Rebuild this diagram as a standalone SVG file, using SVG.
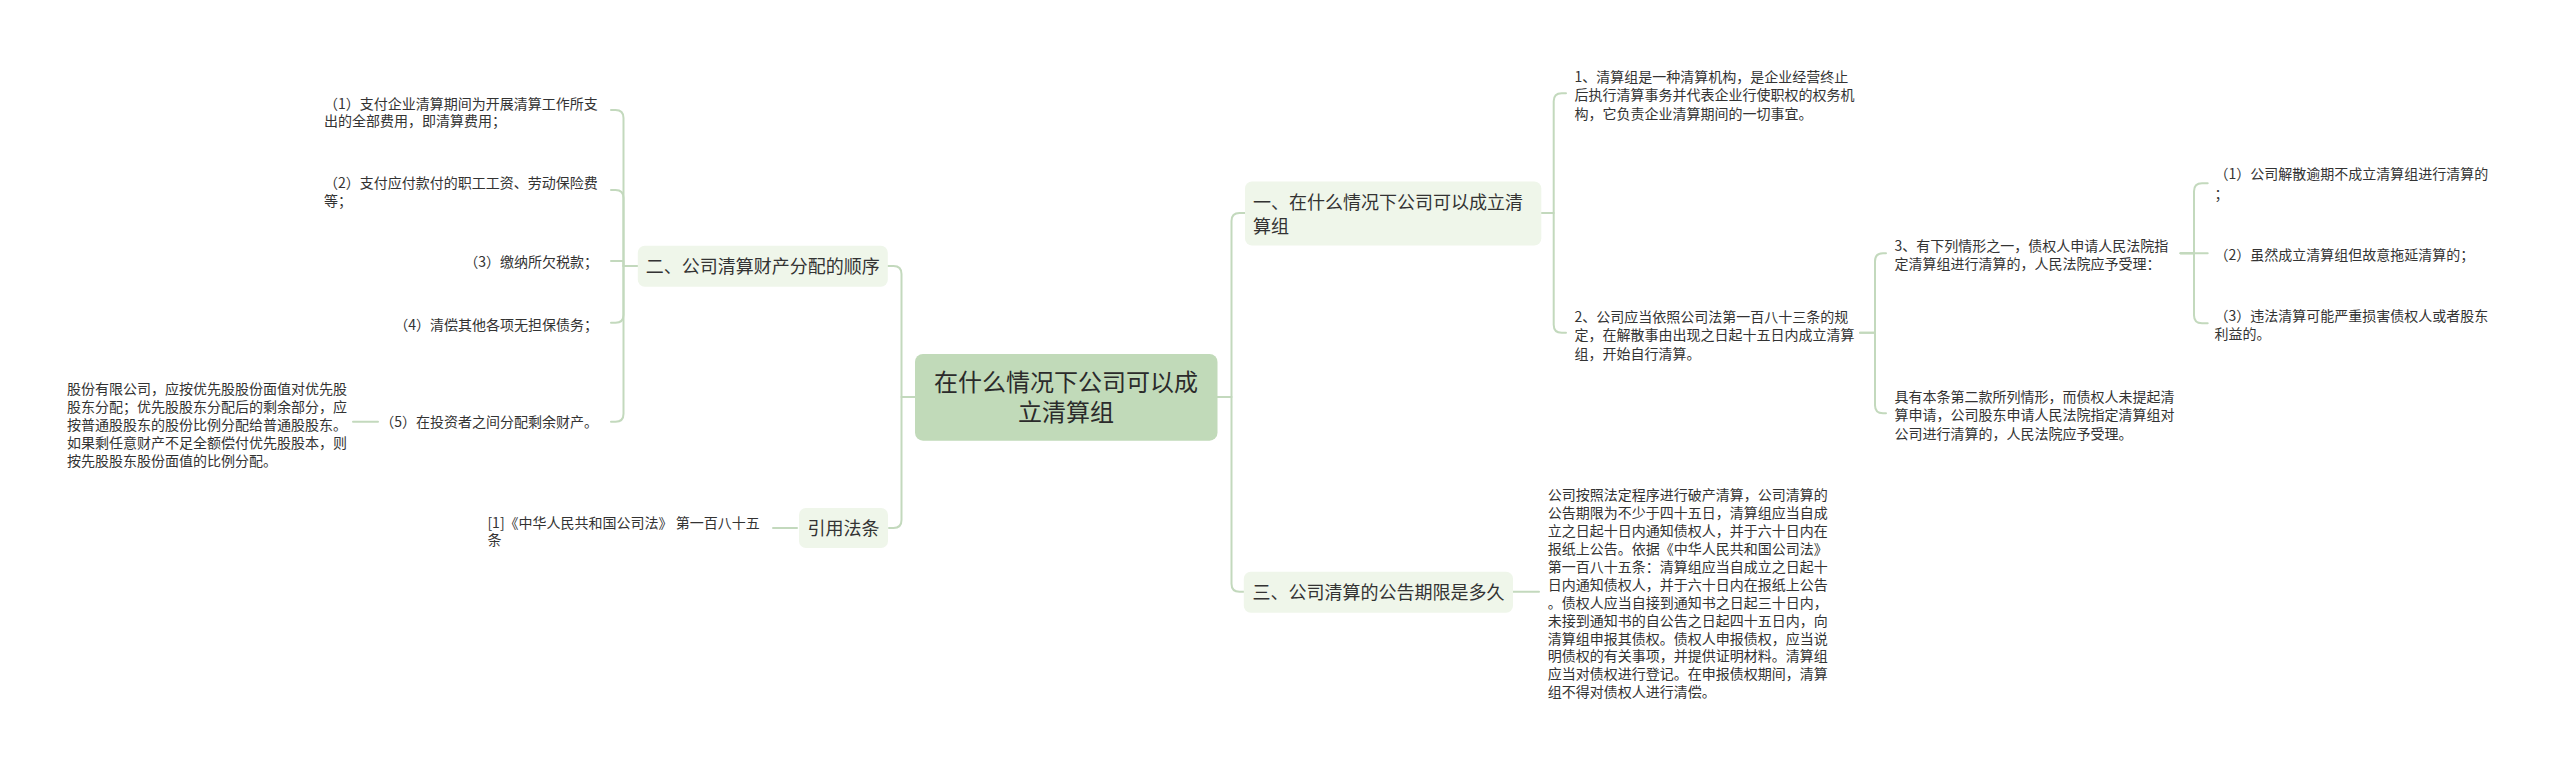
<svg xmlns="http://www.w3.org/2000/svg" width="2560" height="767" viewBox="0 0 2560 767">
<style>
.bg{fill:#ffffff}
.c{fill:none;stroke:#c3d9bd;stroke-width:2;stroke-linecap:round;stroke-linejoin:round}
.root{fill:#c1dab9}
.l1{fill:#eff6ea}
text{font-family:"Noto Sans CJK SC","Microsoft YaHei",sans-serif;fill:#333333}
.t14{font-size:14px}
.t18{font-size:18px}
.t24{font-size:24px;fill:#2b2b2b}
.e{text-anchor:end}
.m{text-anchor:middle}
</style>
<rect class="bg" x="0" y="0" width="2560" height="767"/>
<g id="connectors">
<path class="c" d="M915 397 H901.5 V274 Q901.5 266 893.5 266 H888"/>
<path class="c" d="M915 397 H901.5 V520 Q901.5 528 893.5 528 H889"/>
<path class="c" d="M638 266 H623.5 V118 Q623.5 110 615.5 110 H611"/>
<path class="c" d="M638 266 H623.5 V198 Q623.5 190 615.5 190 H611"/>
<path class="c" d="M638 266 H623.5 V261 H611"/>
<path class="c" d="M638 266 H623.5 V314.7 Q623.5 322.7 615.5 322.7 H611"/>
<path class="c" d="M638 266 H623.5 V413.7 Q623.5 421.7 615.5 421.7 H611"/>
<path class="c" d="M378 421.7 H353"/>
<path class="c" d="M797 528 H773"/>
<path class="c" d="M1217.5 397 H1231.5 V221 Q1231.5 213 1239.5 213 H1245"/>
<path class="c" d="M1217.5 397 H1231.5 V583.7 Q1231.5 591.7 1239.5 591.7 H1244"/>
<path class="c" d="M1541.5 213 H1553.7 V101.3 Q1553.7 93.3 1561.7 93.3 H1566"/>
<path class="c" d="M1541.5 213 H1553.7 V324.7 Q1553.7 332.7 1561.7 332.7 H1566"/>
<path class="c" d="M1860 332.7 H1875 V261.3 Q1875 253.3 1883 253.3 H1886"/>
<path class="c" d="M1860 332.7 H1875 V405.3 Q1875 413.3 1883 413.3 H1886"/>
<path class="c" d="M2180.5 253.3 H2194 V191.3 Q2194 183.3 2202 183.3 H2207.7"/>
<path class="c" d="M2180.5 253.3 H2207.7"/>
<path class="c" d="M2180.5 253.3 H2194 V315.3 Q2194 323.3 2202 323.3 H2207.7"/>
<path class="c" d="M1513 591.7 H1539"/>
</g>
<g id="root">
<rect class="root" x="915" y="354" width="302.5" height="86.7" rx="8"/>
<text class="t24 m" x="1066" y="390.8">在什么情况下公司可以成</text>
<text class="t24 m" x="1066" y="420.8">立清算组</text>
</g>
<g id="n-yi">
<rect class="l1" x="1245" y="181.5" width="296.3" height="64" rx="7"/>
<text class="t18" x="1253" y="208.5">一、在什么情况下公司可以成立清</text>
<text class="t18" x="1253" y="232.8">算组</text>
</g>
<g id="n-er">
<rect class="l1" x="637.8" y="245.7" width="250" height="41" rx="7"/>
<text class="t18 m" x="762.8" y="272.8">二、公司清算财产分配的顺序</text>
</g>
<g id="n-yinyong">
<rect class="l1" x="799" y="508" width="89" height="40" rx="7"/>
<text class="t18 m" x="843.5" y="534.8">引用法条</text>
</g>
<g id="n-san">
<rect class="l1" x="1243.8" y="571.7" width="269.2" height="41" rx="7"/>
<text class="t18 m" x="1378.4" y="598.5">三、公司清算的公告期限是多久</text>
</g>
<g id="er-1">
<text class="t14" x="324" y="108.6">（1）支付企业清算期间为开展清算工作所支</text>
<text class="t14" x="324" y="126.2">出的全部费用，即清算费用；</text>
</g>
<g id="er-2">
<text class="t14" x="324" y="188">（2）支付应付款付的职工工资、劳动保险费</text>
<text class="t14" x="324" y="205.5">等；</text>
</g>
<g id="er-3">
<text class="t14 e" x="598" y="267">（3）缴纳所欠税款；</text>
</g>
<g id="er-4">
<text class="t14 e" x="598" y="330.3">（4）清偿其他各项无担保债务；</text>
</g>
<g id="er-5">
<text class="t14 e" x="598" y="427">（5）在投资者之间分配剩余财产。</text>
</g>
<g id="er-5-detail">
<text class="t14" x="67" y="393.6">股份有限公司，应按优先股股份面值对优先股</text>
<text class="t14" x="67" y="411.6">股东分配；优先股股东分配后的剩余部分，应</text>
<text class="t14" x="67" y="429.6">按普通股股东的股份比例分配给普通股股东。</text>
<text class="t14" x="67" y="447.6">如果剩任意财产不足全额偿付优先股股本，则</text>
<text class="t14" x="67" y="465.6">按先股股东股份面值的比例分配。</text>
</g>
<g id="yinyong-1">
<text class="t14" x="487.4" y="527.6">[1]《中华人民共和国公司法》 第一百八十五</text>
<text class="t14" x="487.4" y="545.3">条</text>
</g>
<g id="yi-1">
<text class="t14" x="1574.4" y="82">1、清算组是一种清算机构，是企业经营终止</text>
<text class="t14" x="1574.4" y="100.3">后执行清算事务并代表企业行使职权的权务机</text>
<text class="t14" x="1574.4" y="118.6">构，它负责企业清算期间的一切事宜。</text>
</g>
<g id="yi-2">
<text class="t14" x="1574.4" y="322">2、公司应当依照公司法第一百八十三条的规</text>
<text class="t14" x="1574.4" y="340.3">定，在解散事由出现之日起十五日内成立清算</text>
<text class="t14" x="1574.4" y="358.6">组，开始自行清算。</text>
</g>
<g id="yi-2-3">
<text class="t14" x="1894.4" y="251.3">3、有下列情形之一，债权人申请人民法院指</text>
<text class="t14" x="1894.4" y="269.3">定清算组进行清算的，人民法院应予受理：</text>
</g>
<g id="yi-2-4">
<text class="t14" x="1894.4" y="402">具有本条第二款所列情形，而债权人未提起清</text>
<text class="t14" x="1894.4" y="420.3">算申请，公司股东申请人民法院指定清算组对</text>
<text class="t14" x="1894.4" y="438.6">公司进行清算的，人民法院应予受理。</text>
</g>
<g id="yi-2-3-1">
<text class="t14" x="2214.5" y="179.3">（1）公司解散逾期不成立清算组进行清算的</text>
<text class="t14" x="2214.5" y="198.6">；</text>
</g>
<g id="yi-2-3-2">
<text class="t14" x="2214.5" y="260.3">（2）虽然成立清算组但故意拖延清算的；</text>
</g>
<g id="yi-2-3-3">
<text class="t14" x="2214.5" y="321.3">（3）违法清算可能严重损害债权人或者股东</text>
<text class="t14" x="2214.5" y="339.3">利益的。</text>
</g>
<g id="san-1">
<text class="t14" x="1547.7" y="500.3">公司按照法定程序进行破产清算，公司清算的</text>
<text class="t14" x="1547.7" y="518.2">公告期限为不少于四十五日，清算组应当自成</text>
<text class="t14" x="1547.7" y="536.1">立之日起十日内通知债权人，并于六十日内在</text>
<text class="t14" x="1547.7" y="554">报纸上公告。依据《中华人民共和国公司法》</text>
<text class="t14" x="1547.7" y="571.9">第一百八十五条：清算组应当自成立之日起十</text>
<text class="t14" x="1547.7" y="589.8">日内通知债权人，并于六十日内在报纸上公告</text>
<text class="t14" x="1547.7" y="607.7">。债权人应当自接到通知书之日起三十日内，</text>
<text class="t14" x="1547.7" y="625.6">未接到通知书的自公告之日起四十五日内，向</text>
<text class="t14" x="1547.7" y="643.5">清算组申报其债权。债权人申报债权，应当说</text>
<text class="t14" x="1547.7" y="661.4">明债权的有关事项，并提供证明材料。清算组</text>
<text class="t14" x="1547.7" y="679.3">应当对债权进行登记。在申报债权期间，清算</text>
<text class="t14" x="1547.7" y="697.2">组不得对债权人进行清偿。</text>
</g>
</svg>
